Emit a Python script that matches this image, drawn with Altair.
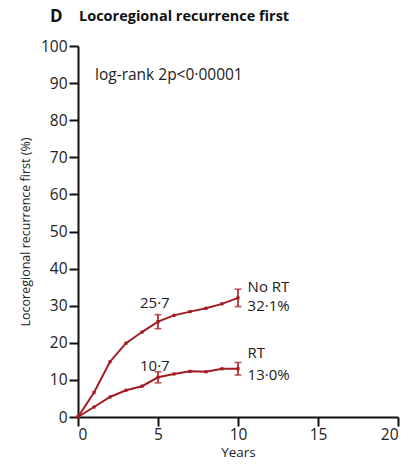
import altair as alt
import pandas as pd

years = [0, 1, 2, 3, 4, 5, 6, 7, 8, 9, 10]
no_rt = [0, 6.6, 14.9, 19.9, 22.9, 25.7, 27.4, 28.4, 29.3, 30.5, 32.1]
rt = [0, 2.7, 5.4, 7.2, 8.3, 10.7, 11.6, 12.3, 12.2, 13.0, 13.0]
err_years = [5, 10]
no_rt_err = [1.9, 2.35]
rt_err = [1.5, 1.7]
x_ticks = [0, 5, 10, 15, 20]
y_ticks = [0, 10, 20, 30, 40, 50, 60, 70, 80, 90, 100]

ann_text = ["25·7", "10·7", "No RT", "32·1%", "RT", "13·0%"]
ann_x = [4.8, 4.8, 10.6, 10.6, 10.6, 10.6]
ann_y = [30.6, 13.8, 35.1, 29.8, 17.3, 11.4]
ann_align = ["center", "center", "left", "left", "left", "left"]

RED = "#a31b22"
FONT = "Open Sans"

rows = []
for g, vals in (("No RT", no_rt), ("RT", rt)):
    for x, v in zip(years, vals):
        rows.append({"group": g, "year": x, "value": v})
df = pd.DataFrame(rows)

erows = []
for g, vals, errs in (("No RT", no_rt, no_rt_err), ("RT", rt, rt_err)):
    for x, e in zip(err_years, errs):
        v = vals[years.index(x)]
        erows.append({"group": g, "year": x, "lo": v - e, "hi": v + e})
edf = pd.DataFrame(erows)

adf = pd.DataFrame({"t": ann_text, "x": ann_x, "y": ann_y, "a": ann_align})

xs = alt.Scale(domain=[0, 20], nice=False)
ys = alt.Scale(domain=[0, 100], nice=False)
xax = alt.Axis(values=x_ticks, title="Years", labelOverlap=False)
yax = alt.Axis(values=y_ticks, title="Locoregional recurrence first (%)", labelOverlap=False)


def X(f):
    return alt.X(f, scale=xs, axis=xax)


def Y(f):
    return alt.Y(f, scale=ys, axis=yax)


base = alt.Chart(df)
line = base.mark_line(color=RED, strokeWidth=2).encode(
    x=X("year:Q"), y=Y("value:Q"), detail="group:N",
)
pts = base.mark_point(color=RED, filled=True, shape="square", size=10, opacity=1).encode(
    x=X("year:Q"), y=Y("value:Q")
)
eb = alt.Chart(edf).mark_rule(color=RED, strokeWidth=1.6).encode(
    x=X("year:Q"), y=Y("lo:Q"), y2="hi:Q"
)
cap_lo = alt.Chart(edf).mark_tick(color=RED, orient="horizontal", size=7, thickness=1.6).encode(
    x=X("year:Q"), y=Y("lo:Q")
)
cap_hi = alt.Chart(edf).mark_tick(color=RED, orient="horizontal", size=7, thickness=1.6).encode(
    x=X("year:Q"), y=Y("hi:Q")
)

ann_c = alt.Chart(adf[adf.a == "center"]).mark_text(font=FONT, fontSize=15, color="#222", align="center", baseline="middle").encode(
    x=X("x:Q"), y=Y("y:Q"), text="t:N"
)
ann_l = alt.Chart(adf[adf.a == "left"]).mark_text(font=FONT, fontSize=15, color="#222", align="left", baseline="middle").encode(
    x=X("x:Q"), y=Y("y:Q"), text="t:N"
)
logrank = alt.Chart(pd.DataFrame({"t": ["log-rank 2p<0·00001"]})).mark_text(
    font=FONT, fontSize=15.5, color="#222", align="left", baseline="middle").encode(
    x=alt.value(17), y=alt.value(29), text="t:N")
title_d = alt.Chart(pd.DataFrame({"t": ["D"]})).mark_text(
    font=FONT, fontSize=17, fontWeight="bold", color="#111", align="left", baseline="middle").encode(
    x=alt.value(-28), y=alt.value(-29), text="t:N")
title_t = alt.Chart(pd.DataFrame({"t": ["Locoregional recurrence first"]})).mark_text(
    font=FONT, fontSize=14.5, fontWeight="bold", color="#111", align="left", baseline="middle").encode(
    x=alt.value(1), y=alt.value(-29), text="t:N")

chart = alt.layer(line, eb, cap_lo, cap_hi, pts, ann_c, ann_l, logrank, title_d, title_t).properties(
    width=320, height=371,
    autosize=alt.AutoSizeParams(type="none"),
    padding={"left": 78, "top": 46, "right": 4, "bottom": 49},
).configure_view(stroke=None, clip=False).configure_axis(
    domainColor="#111", domainWidth=2, tickColor="#111", tickWidth=2, tickSize=9,
    labelFont=FONT, labelFontSize=15.5, labelColor="#222", labelPadding=2,
    titleFont=FONT, titleFontSize=12.5, titleFontWeight="normal", titleColor="#222",
    grid=False,
).configure_axisY(titlePadding=8).configure_axisX(titlePadding=3, titleFontSize=13.5, labelPadding=1)

chart.save("out.html", embed_options={"renderer": "svg", "actions": False})
